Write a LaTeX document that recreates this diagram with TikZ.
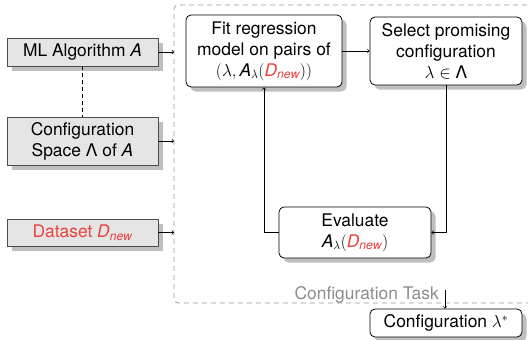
\documentclass[tikz,border=0pt]{standalone}
\usepackage{amsmath}
\usepackage[no-math]{fontspec}
\setmainfont{TeX Gyre Heros}
\usetikzlibrary{shadows}
\definecolor{dred}{RGB}{235,65,60}
\newcommand\sA{\text{\itshape A}}
\newcommand\Dn{\textcolor{dred}{\text{\itshape D}_{\text{\itshape new}}}}
\begin{document}
\begin{tikzpicture}[x=1pt,y=-1pt,
  font=\fontsize{17.4}{21}\selectfont,
  shad/.style={drop shadow={shadow xshift=4.5pt,shadow yshift=-4.5pt,fill=black!25,opacity=1}},
  inbox/.style={draw=black!70, fill=black!10, line width=0.8pt, minimum width=151pt, align=center, inner sep=2pt, shad},
  procbox/.style={draw=black, fill=white, rounded corners=5pt, line width=0.8pt, align=center, inner sep=2pt, shad},
  conn/.style={->, line width=0.7pt}]
\clip (0,0) rectangle (528,340);
% container
\draw[black!40, line width=0.8pt, dash pattern=on 5pt off 4pt, rounded corners=4pt]
  (545,5) -- (174,5) -- (174,303) -- (545,303);
\coordinate (cleft) at (174,5);
% left inputs
\node[inbox, minimum height=28pt] (ml) at (82.5,52) {ML Algorithm \textit{A}};
\node[inbox, minimum height=48pt] (cs) at (82.5,141) {Configuration\\Space Λ of \textit{A}};
\node[inbox, minimum height=27pt, text=dred] (ds) at (82.5,232.5) {Dataset $\Dn$};
% process
\node[procbox, minimum width=156pt, minimum height=72pt] (fit) at (264,51)
  {Fit regression\\model on pairs of\\$(\lambda,\sA_\lambda(\Dn))$};
\node[procbox, minimum width=152pt, minimum height=68pt] (sel) at (446,51)
  {Select promising\\configuration\\$\lambda\in\text{Λ}$};
\node[procbox, minimum width=152pt, minimum height=51pt] (eval) at (355,232.5)
  {Evaluate\\$\sA_\lambda(\Dn)$};
\node[procbox, minimum width=152pt, minimum height=28pt] (cfg) at (446,323)
  {Configuration $\lambda^*$};
\node[anchor=base east, inner sep=0pt, text=black!45] (task) at (439,299) {Configuration Task};
% connectors
\draw[dash pattern=on 3.5pt off 3.5pt, line width=0.7pt] (ml.south) -- (cs.north);
\draw[conn] (ml.east) -- (ml.east -| cleft);
\draw[conn] (cs.east) -- (cs.east -| cleft);
\draw[conn] (ds.east) -- (ds.east -| cleft);
\draw[conn] (fit.east) -- (sel.west |- fit.east);
\draw[conn] (sel.south) |- (eval.east);
\draw[conn] (eval.west) -| (fit.south);
\coordinate (tarr) at (445,290);
\draw[conn] (tarr) -- (tarr |- cfg.north);
\end{tikzpicture}
\end{document}
